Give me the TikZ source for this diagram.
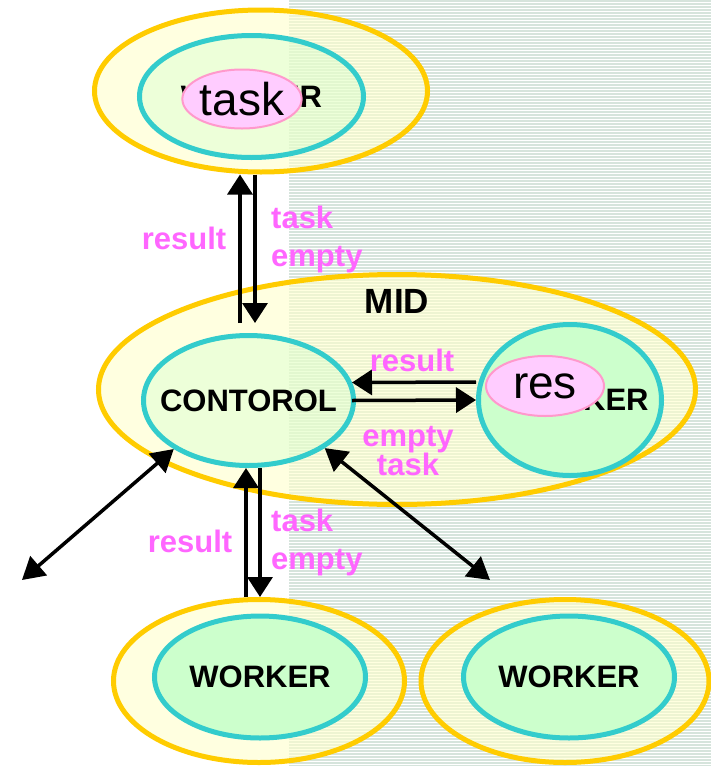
\documentclass[tikz,border=0pt]{standalone}
\usepackage{fontspec}
\setmainfont{Liberation Sans}
\usetikzlibrary{arrows.meta, shapes.geometric}
\definecolor{ringyellow}{RGB}{255,204,0}
\definecolor{ringteal}{RGB}{51,204,204}
\definecolor{palegreen}{RGB}{204,255,204}
\definecolor{paleyellow}{RGB}{255,255,204}
\definecolor{bubblepink}{RGB}{255,204,255}
\definecolor{bubbleline}{RGB}{255,153,204}
\definecolor{msgpink}{RGB}{255,102,255}
\definecolor{stripegreen}{RGB}{214,228,220}
\newcommand{\ringtext}[1]{\makebox[0pt]{#1}}
\tikzset{%
	outer ring/.style={
		ellipse,
		draw=ringyellow,
		line width=5pt,
		fill=paleyellow,
		fill opacity=0.6,
		text opacity=1,
		inner sep=0pt
	},
	inner ring/.style={
		ellipse,
		draw=ringteal,
		line width=5pt,
		fill=palegreen,
		inner sep=0pt,
		font=\fontsize{31}{31}\selectfont\bfseries
	},
	bubble/.style={
		ellipse,
		draw=bubbleline,
		line width=2pt,
		fill=bubblepink,
		inner sep=0pt,
		font=\fontsize{46}{46}\selectfont
	},
	msg/.style={
		text=msgpink,
		inner sep=0pt,
		font=\fontsize{31}{38}\selectfont\bfseries
	},
	flow/.style={line width=3.5pt, -{Triangle[length=20pt,width=25pt]}},
	two way flow/.style={line width=3.5pt, {Triangle[length=22pt,width=25pt]}-{Triangle[length=22pt,width=25pt]}},
}
\begin{document}
\begin{tikzpicture}[x=1pt, y=-1pt]
			\useasboundingbox (0,0) rectangle (711,766);
			% Background, striped on the right
			\fill[white] (0,0) rectangle (711,766);
			\foreach \y in {1,4,...,766}
				\draw[stripegreen, line width=1.5pt] (289,\y) -- (711,\y);
			
			% Top worker
			\node[outer ring, minimum width=333pt, minimum height=162pt] (top) at (261,91) {};
			\node[inner ring, fill opacity=0.35, text opacity=1, minimum width=224pt, minimum height=122pt] (topcore) at (251.5,96.5) {\ringtext{WORKER}};
			\node[bubble, minimum width=118pt, minimum height=59pt] (taskbub) at (242,99) {task};
			
			% Middle part
			\node[outer ring, minimum width=597pt, minimum height=230pt] (mid) at (397,389.5) {};
			\node[font=\fontsize{35}{35}\selectfont\bfseries] (midlbl) at (397,301) {MID};
			\node[inner ring, fill opacity=0.35, text opacity=1, minimum width=210pt, minimum height=130pt] (ctrl) at (248.5,400.5) {\ringtext{CONTOROL}};
			\node[inner ring, minimum width=183pt, minimum height=151pt] (resw) at (570,400) {\ringtext{\hspace*{16pt}WORKER}};
			\node[bubble, minimum width=118pt, minimum height=60pt] (resbub) at (545,386) {res};
			
			% Bottom workers
			\node[outer ring, minimum width=291pt, minimum height=163pt] (wleft) at (259,681) {};
			\node[inner ring, minimum width=211pt, minimum height=122pt] (wleftcore) at (260,677) {\ringtext{WORKER}};
			\node[outer ring, minimum width=288pt, minimum height=163pt] (wright) at (565,681) {};
			\node[inner ring, minimum width=211pt, minimum height=122pt] (wrightcore) at (569,677) {\ringtext{WORKER}};
			
			% Arrows between top and middle
			\draw[flow] ([xshift=-8.5pt,yshift=10pt]ctrl.north) -- ([xshift=-21pt]top.south);
			\draw[flow] ([xshift=-6pt]top.south) -- ([xshift=6.5pt,yshift=10pt]ctrl.north);
			\node[msg] (upres) at (184,238) {result};
			\node[msg, anchor=west, align=left] (downmsg) at (271,239) {task\\empty};
			
			% Arrows inside the middle
			\draw[flow] ([yshift=18pt]resw.west) -- ([xshift=-4pt,yshift=18pt]ctrl.east);
			\draw[flow] ([xshift=-4pt]ctrl.east) -- (resw.west);
			\node[msg] (sideres) at (412,360) {result};
			\node[msg, align=center, font=\fontsize{31}{28}\selectfont\bfseries] (sidemsg) at (408,451) {empty\\task};
			
			% Arrows out of the middle
			\coordinate (farleft) at (22,580);
			\coordinate (farright) at (490,580);
			\draw[two way flow] (ctrl.213) -- (farleft);
			\draw[two way flow] (ctrl.-32) -- (farright);
			
			% Arrows between middle and bottom
			\draw[flow] ([xshift=-13pt]wleft.north) -- ([xshift=-2.5pt]ctrl.south);
			\draw[flow] ([xshift=11.5pt]ctrl.south) -- ([xshift=1pt]wleft.north);
			\node[msg] (lowres) at (190,541) {result};
			\node[msg, anchor=west, align=left] (lowmsg) at (271,542) {task\\empty};
			
		\end{tikzpicture}
\end{document}
